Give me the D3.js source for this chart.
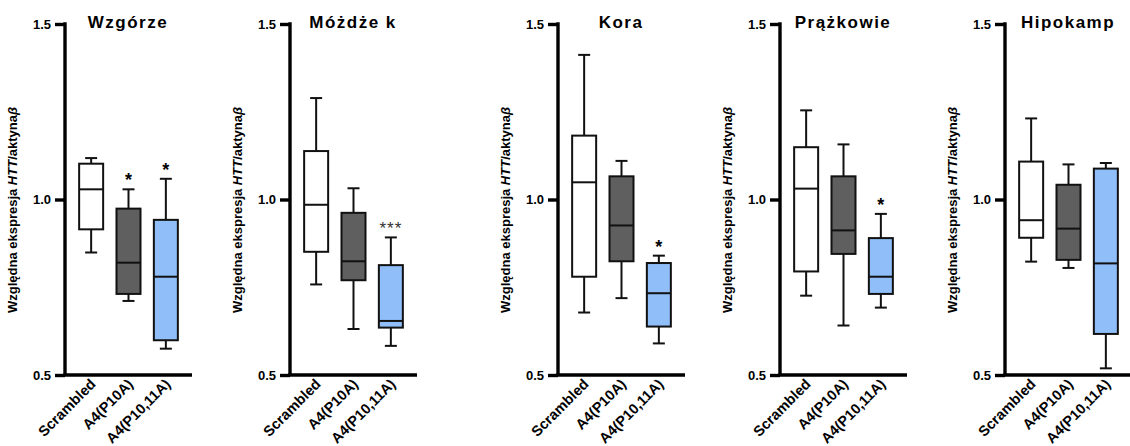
<!DOCTYPE html>
<html>
<head>
<meta charset="utf-8">
<script src="https://cdn.jsdelivr.net/npm/d3@7"></script>
<style>
  body { margin: 0; background: #fff; }
  svg { display: block; font-family: Arial, "Liberation Sans", sans-serif; }
  .axis path, .axis line { stroke: #000; stroke-width: 3.4px; }
  .axis text { fill: #000; font-weight: bold; }
</style>
</head>
<body>
<div id="chart"></div>
<script>
// Daten
const regions = ["Wzgórze", "Móżdże k", "Kora", "Prążkowie", "Hipokamp"];
const groups = ["Scrambled", "A4(P10A)", "A4(P10,11A)"];
const yTicks = [0.5, 1.0, 1.5];

// [min, q1, median, q3, max] per group
const wzgorze = [[0.849, 0.915, 1.029, 1.102, 1.118], [0.711, 0.731, 0.820, 0.974, 1.029], [0.575, 0.599, 0.780, 0.942, 1.059]];
const mozdzek = [[0.758, 0.851, 0.985, 1.138, 1.289], [0.631, 0.770, 0.824, 0.962, 1.032], [0.583, 0.635, 0.654, 0.813, 0.892]];
const kora = [[0.678, 0.780, 1.049, 1.182, 1.412], [0.719, 0.824, 0.926, 1.066, 1.110], [0.590, 0.638, 0.733, 0.819, 0.840]];
const prazkowie = [[0.726, 0.795, 1.031, 1.149, 1.254], [0.641, 0.845, 0.912, 1.066, 1.157], [0.692, 0.731, 0.780, 0.890, 0.959]];
const hipokamp = [[0.823, 0.891, 0.941, 1.108, 1.231], [0.805, 0.828, 0.917, 1.042, 1.100], [0.519, 0.617, 0.818, 1.088, 1.104]];
const significance = [["", "*", "*"], ["", "", "***"], ["", "", "*"], ["", "", "*"], ["", "", ""]];

const stats = [wzgorze, mozdzek, kora, prazkowie, hipokamp];

// Layout
const panelLeft = [65, 290, 558, 780, 1005];
const plotTop = 24, plotBottom = 375, axisLen = 127;
const fills = ["#ffffff", "#5f5f5f", "#90bef8"];

const svg = d3.select("#chart")
    .append("svg")
    .attr("width", 1130)
    .attr("height", 446);

const y = d3.scaleLinear()
    .domain([0.5, 1.5])
    .range([plotBottom, plotTop]);

const x = d3.scalePoint()
    .domain(groups)
    .range([0, axisLen])
    .padding(0.7);

const boxW = 24, capW = 12;

regions.forEach((name, i) => {
    const g = svg.append("g")
        .attr("transform", `translate(${panelLeft[i]},0)`);

    // Titel
    g.append("text")
        .attr("x", 63)
        .attr("y", 28)
        .attr("text-anchor", "middle")
        .style("font-size", "17px")
        .style("font-weight", "bold")
        .style("letter-spacing", "1.5px")
        .text(name);

    // Y-Achse
    const yAxis = g.append("g")
        .attr("class", "axis")
        .call(d3.axisLeft(y).tickValues(yTicks).tickFormat(d3.format(".1f")).tickSize(10).tickSizeOuter(0).tickPadding(4));
    yAxis.select(".domain").attr("d", `M0,${plotTop - 1.7}V${plotBottom}`);
    yAxis.selectAll(".tick text").style("font-size", "13px");

    // X-Achse
    const xAxis = g.append("g")
        .attr("class", "axis")
        .attr("transform", `translate(0,${plotBottom})`)
        .call(d3.axisBottom(x).tickSize(0).tickSizeOuter(0));
    xAxis.select(".domain").attr("d", `M-1.7,0H${axisLen}`);
    xAxis.selectAll(".tick text")
        .attr("x", 0)
        .attr("y", 0)
        .attr("dy", 0)
        .attr("transform", "translate(5,10) rotate(-45)")
        .attr("text-anchor", "end")
        .style("font-size", "14.5px");

    // Y-Beschriftung
    const label = g.append("text")
        .attr("transform", `translate(-48,210) rotate(-90)`)
        .attr("text-anchor", "middle")
        .style("font-size", "13px")
        .style("font-weight", "bold");
    label.append("tspan").text("Względna ekspresja ");
    label.append("tspan").style("font-style", "italic").text("HTT");
    label.append("tspan").text("/aktyna");
    label.append("tspan").style("font-style", "italic").text("β");

    const data = stats[i].map((s, j) => ({group: groups[j], min: s[0], q1: s[1], med: s[2], q3: s[3], max: s[4], sig: significance[i][j], fill: fills[j]}));

    const box = g.selectAll(".box")
        .data(data)
        .join("g")
        .attr("class", "box")
        .attr("transform", d => `translate(${x(d.group)},0)`);

    // Whisker
    box.append("line")
        .attr("y1", d => y(d.max)).attr("y2", d => y(d.q3))
        .attr("stroke", "#111").attr("stroke-width", 2);
    box.append("line")
        .attr("y1", d => y(d.q1)).attr("y2", d => y(d.min))
        .attr("stroke", "#111").attr("stroke-width", 2);
    box.append("line")
        .attr("x1", -capW / 2).attr("x2", capW / 2)
        .attr("y1", d => y(d.max)).attr("y2", d => y(d.max))
        .attr("stroke", "#111").attr("stroke-width", 2);
    box.append("line")
        .attr("x1", -capW / 2).attr("x2", capW / 2)
        .attr("y1", d => y(d.min)).attr("y2", d => y(d.min))
        .attr("stroke", "#111").attr("stroke-width", 2);

    // Box
    box.append("rect")
        .attr("x", -boxW / 2)
        .attr("width", boxW)
        .attr("y", d => y(d.q3))
        .attr("height", d => y(d.q1) - y(d.q3))
        .attr("fill", d => d.fill)
        .attr("stroke", "#111")
        .attr("stroke-width", 2);

    // Median
    box.append("line")
        .attr("x1", -boxW / 2).attr("x2", boxW / 2)
        .attr("y1", d => y(d.med)).attr("y2", d => y(d.med))
        .attr("stroke", "#111").attr("stroke-width", 2);

    // Signifikanz
    box.append("text")
        .attr("y", d => y(d.max) - 3)
        .attr("text-anchor", "middle")
        .style("font-size", d => d.sig.length > 1 ? "17px" : "18px")
        .style("font-weight", d => d.sig.length > 1 ? "normal" : "bold")
        .style("letter-spacing", d => d.sig.length > 1 ? "1px" : null)
        .style("fill", d => d.sig.length > 1 ? "#333" : "#000")
        .text(d => d.sig);
});
</script>
</body>
</html>
